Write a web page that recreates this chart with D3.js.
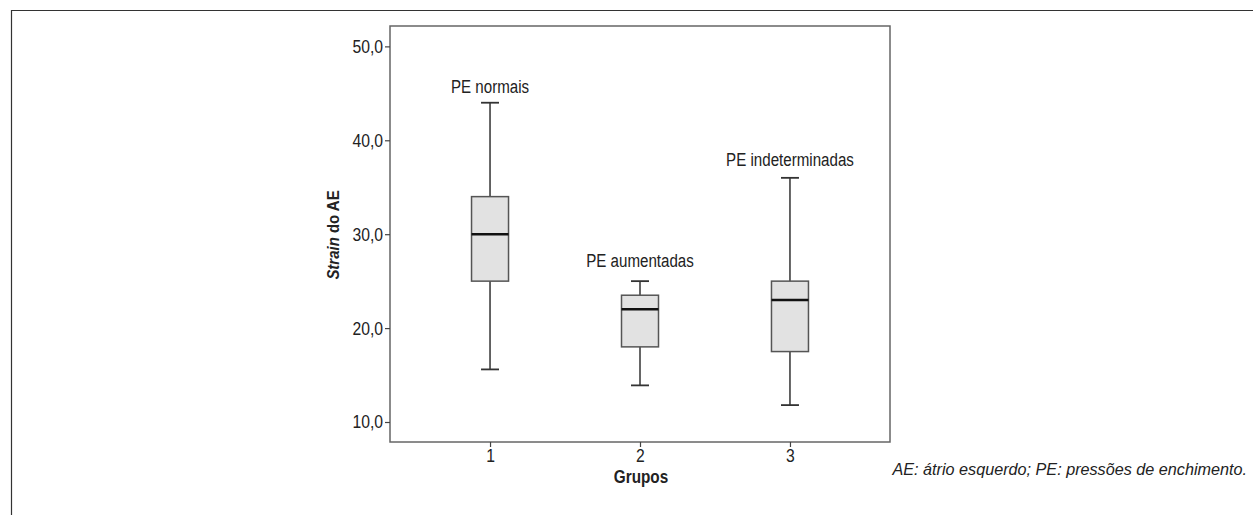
<!DOCTYPE html>
<html lang="pt">
<head>
<meta charset="UTF-8">
<title>Strain do AE por grupos</title>
<style>
    body { margin: 0; background: #fff; }
    svg { display: block; }
    text { font-family: "Liberation Sans", Arial, sans-serif; fill: #222; }
</style>
</head>
<body>
<div id="chart"></div>
<script src="https://d3js.org/d3.v7.min.js"></script>
<script>
// groups and their box statistics
const groups = ["1", "2", "3"];
const groupLabels = ["PE normais", "PE aumentadas", "PE indeterminadas"];
const labelAt = [45.0, 26.5, 37.3];
const whiskerLow = [15.6, 13.9, 11.8];
const q1 = [25.0, 18.0, 17.5];
const median = [30.0, 22.0, 23.0];
const q3 = [34.0, 23.5, 25.0];
const whiskerHigh = [44.0, 25.0, 36.0];
const yTicks = [10, 20, 30, 40, 50];

const W = 1253, H = 515;
const margin = {top: 26, right: 363, bottom: 73, left: 390};
const width = W - margin.left - margin.right,
      height = H - margin.top - margin.bottom;

// the original uses a condensed face; squeeze Liberation Sans to match
function condense(sel, k) {
    sel.each(function() {
        const len = this.getComputedTextLength();
        d3.select(this).attr("textLength", len * k).attr("lengthAdjust", "spacingAndGlyphs");
    });
}

const svg = d3.select("#chart").append("svg")
    .attr("width", W)
    .attr("height", H);

// outer frame (right and bottom edges run off the page)
svg.append("path")
    .attr("d", "M11.5," + H + "V10.5H" + W)
    .attr("fill", "none")
    .attr("stroke", "#333")
    .attr("stroke-width", 1.2);

const g = svg.append("g")
    .attr("transform", "translate(" + margin.left + "," + margin.top + ")");

const x = d3.scalePoint().domain(groups).range([0, width]).padding(0.667);
const y = d3.scaleLinear().domain([7.87, 52.17]).range([height, 0]);

const boxes = groups.map((k, i) => ({
    key: k, label: groupLabels[i], labelAt: labelAt[i],
    lo: whiskerLow[i], q1: q1[i], med: median[i], q3: q3[i], hi: whiskerHigh[i]
}));

// plot frame
g.append("rect")
    .attr("width", width)
    .attr("height", height)
    .attr("fill", "none")
    .attr("stroke", "#666")
    .attr("stroke-width", 1.5);

// axes
const yAxis = g.append("g")
    .call(d3.axisLeft(y).tickValues(yTicks).tickSize(5).tickPadding(2)
        .tickFormat(d => d3.format(".1f")(d).replace(".", ",")));
const xAxis = g.append("g")
    .attr("transform", "translate(0," + height + ")")
    .call(d3.axisBottom(x).tickSize(5).tickPadding(2));
[yAxis, xAxis].forEach(a => {
    a.select(".domain").remove();
    a.selectAll("line").attr("stroke", "#444").attr("stroke-width", 1.2);
    a.selectAll("text").attr("font-size", 18.5).attr("fill", "#222")
        .attr("font-family", "'Liberation Sans', Arial, sans-serif");
    condense(a.selectAll("text"), 0.85);
});

const boxW = 37, capW = 18;
const bx = g.selectAll(".box").data(boxes).enter().append("g")
    .attr("class", "box")
    .attr("transform", d => "translate(" + x(d.key) + ",0)");

// whiskers
bx.append("line")
    .attr("y1", d => y(d.lo)).attr("y2", d => y(d.hi))
    .attr("stroke", "#333").attr("stroke-width", 1.5);
bx.selectAll(".cap").data(d => [d.lo, d.hi]).enter().append("line")
    .attr("class", "cap")
    .attr("x1", -capW / 2).attr("x2", capW / 2)
    .attr("y1", v => y(v)).attr("y2", v => y(v))
    .attr("stroke", "#333").attr("stroke-width", 1.8);

// box
bx.append("rect")
    .attr("x", -boxW / 2)
    .attr("width", boxW)
    .attr("y", d => y(d.q3))
    .attr("height", d => y(d.q1) - y(d.q3))
    .attr("fill", "#e2e2e2")
    .attr("stroke", "#555")
    .attr("stroke-width", 1.5);

// median
bx.append("line")
    .attr("x1", -boxW / 2).attr("x2", boxW / 2)
    .attr("y1", d => y(d.med)).attr("y2", d => y(d.med))
    .attr("stroke", "#111").attr("stroke-width", 2.5);

// group annotations
const ann = bx.append("text")
    .attr("y", d => y(d.labelAt))
    .attr("text-anchor", "middle")
    .attr("font-size", 18)
    .text(d => d.label);
condense(ann, 0.84);

// axis titles
const yTitle = g.append("text")
    .attr("transform", "translate(-51," + (height / 2 + 1) + ") rotate(-90)")
    .attr("text-anchor", "middle")
    .attr("font-size", 17)
    .attr("font-weight", "bold");
yTitle.append("tspan").attr("font-style", "italic").text("Strain");
yTitle.append("tspan").text(" do AE");
condense(yTitle, 0.88);

const xTitle = g.append("text")
    .attr("x", x("2") + 1)
    .attr("y", height + 41)
    .attr("text-anchor", "middle")
    .attr("font-size", 18)
    .attr("font-weight", "bold")
    .text("Grupos");
condense(xTitle, 0.85);

// footnote
svg.append("text")
    .attr("x", 1247)
    .attr("y", 475)
    .attr("text-anchor", "end")
    .attr("font-size", 16.2)
    .attr("font-style", "italic")
    .text("AE: átrio esquerdo; PE: pressões de enchimento.");
</script>
</body>
</html>
